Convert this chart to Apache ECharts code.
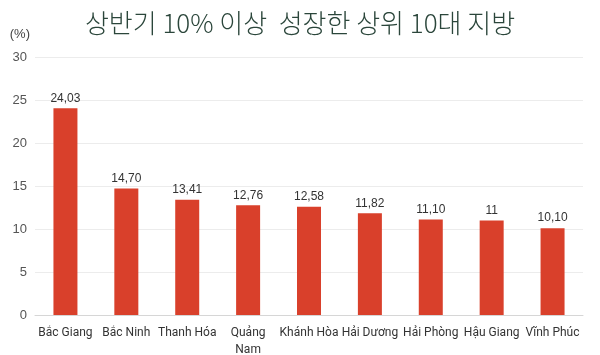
<!DOCTYPE html>
<html>
<head>
<meta charset="utf-8">
<script src="https://cdn.jsdelivr.net/npm/echarts@6/dist/echarts.min.js"></script>
<style>
  html, body { margin: 0; padding: 0; background: #fff; }
  #chart { width: 600px; height: 355px; }
</style>
</head>
<body>
<div id="chart"></div>
<script>
  const categories = ['Bắc Giang', 'Bắc Ninh', 'Thanh Hóa', 'Quảng\nNam', 'Khánh Hòa', 'Hải Dương', 'Hải Phòng', 'Hậu Giang', 'Vĩnh Phúc']
  const growth = [24.03, 14.70, 13.41, 12.76, 12.58, 11.82, 11.10, 11, 10.10]
  const growthLabels = ['24,03', '14,70', '13,41', '12,76', '12,58', '11,82', '11,10', '11', '10,10']

  const chart = echarts.init(document.getElementById('chart'))

  const option = {
    animation: false,
    title: {
      text: '상반기 10% 이상  성장한 상위 10대 지방',
      left: 'center',
      top: 5,
      textStyle: {
        fontFamily: '"Noto Sans CJK KR"',
        fontWeight: 300,
        fontSize: 26,
        color: '#2b463b'
      }
    },
    grid: {
      left: 35,
      right: 17,
      top: 57,
      bottom: 40,
      containLabel: false,
      outerBoundsMode: 'none'
    },
    xAxis: {
      type: 'category',
      data: categories,
      axisLine: { lineStyle: { color: '#d6d6d6' } },
      axisTick: { show: false },
      axisLabel: {
        color: '#333',
        fontSize: 12,
        fontFamily: 'Roboto, sans-serif',
        interval: 0,
        margin: 9,
        lineHeight: 17
      }
    },
    yAxis: {
      type: 'value',
      min: 0,
      max: 30,
      interval: 5,
      name: '(%)',
      nameLocation: 'end',
      nameGap: 16,
      nameTextStyle: {
        color: '#444',
        fontSize: 13,
        align: 'right',
        padding: [0, 5, 0, 0]
      },
      axisLine: { show: false },
      axisTick: { show: false },
      axisLabel: {
        color: '#555',
        fontSize: 13,
        margin: 8
      },
      splitLine: { lineStyle: { color: '#ececec' } }
    },
    series: [{
      type: 'bar',
      data: growth,
      barWidth: 24,
      itemStyle: { color: '#d9402b' },
      label: {
        show: true,
        position: 'top',
        distance: 4,
        color: '#333',
        fontSize: 12,
        formatter: p => growthLabels[p.dataIndex]
      }
    }]
  }

  chart.setOption(option)
</script>
</body>
</html>
